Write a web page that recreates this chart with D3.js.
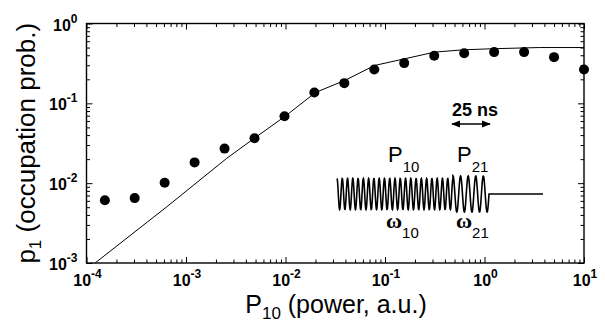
<!DOCTYPE html>
<html>
<head>
<meta charset="utf-8">
<script src="https://cdn.jsdelivr.net/npm/d3@7"></script>
<style>
  html, body { margin: 0; padding: 0; background: #fff; }
  svg { display: block; }
  text { fill: #000; }
</style>
</head>
<body>
<div id="chart"></div>
<script>
// measured points: occupation probability vs drive power
const powerValues = [1.53e-4, 3.05e-4, 6.1e-4, 1.22e-3, 2.44e-3, 4.88e-3, 9.77e-3, 0.0195, 0.039, 0.078, 0.156, 0.3125, 0.625, 1.25, 2.5, 5, 10];
const occupationValues = [6.1e-3, 6.5e-3, 1.01e-2, 1.82e-2, 2.71e-2, 3.65e-2, 6.9e-2, 0.137, 0.179, 0.266, 0.319, 0.395, 0.425, 0.438, 0.438, 0.379, 0.266];

// theory curve
const fitPower = [1.22e-4, 6.4e-4, 2.56e-3, 4.9e-3, 9.9e-3, 0.0201, 0.0396, 0.0785, 0.159, 0.315, 0.628, 1.22, 3.56, 10];
const fitOccupation = [1e-3, 5.05e-3, 0.0204, 0.0368, 0.0688, 0.137, 0.194, 0.298, 0.362, 0.438, 0.469, 0.483, 0.5, 0.5];

// tick labels (exponents of 10)
const xExponents = [-4, -3, -2, -1, 0, 1];
const yExponents = [-3, -2, -1, 0];

const width = 605;
const height = 322;
const margin = { top: 23.5, right: 21, bottom: 59, left: 86.5 };

const svg = d3
  .select('#chart')
  .append('svg')
  .attr('width', width)
  .attr('height', height);

const x = d3
  .scaleLog()
  .domain([1e-4, 10])
  .range([margin.left, width - margin.right]);

const y = d3
  .scaleLog()
  .domain([1e-3, 1])
  .range([height - margin.bottom, margin.top]);

const xMajor = xExponents.map((e) => Math.pow(10, e));
const yMajor = yExponents.map((e) => Math.pow(10, e));
const minorOf = (majors) => {
  const out = [];
  majors.slice(0, -1).forEach((m) => {
    for (let k = 2; k <= 9; k++) out.push(m * k);
  });
  return out;
};
const xMinor = minorOf(xMajor);
const yMinor = minorOf(yMajor);

// ticks pointing inward on all four sides
const plotBottom = y.range()[0];
const plotTop = y.range()[1];
const plotLeft = x.range()[0];
const plotRight = x.range()[1];

function addAxis(axis, tx, ty) {
  const g = svg.append('g').attr('transform', `translate(${tx},${ty})`).call(axis);
  g.select('.domain').remove();
  g.selectAll('line').attr('stroke', '#000').attr('stroke-width', 1);
  g.selectAll('text').remove();
}

[[xMajor, 6], [xMinor, 3.5]].forEach(([vals, len]) => {
  addAxis(d3.axisBottom(x).tickValues(vals).tickSize(-len), 0, plotBottom);
  addAxis(d3.axisTop(x).tickValues(vals).tickSize(-len), 0, plotTop);
});
[[yMajor, 6], [yMinor, 3.5]].forEach(([vals, len]) => {
  addAxis(d3.axisLeft(y).tickValues(vals).tickSize(-len), plotLeft, 0);
  addAxis(d3.axisRight(y).tickValues(vals).tickSize(-len), plotRight, 0);
});

svg
  .append('rect')
  .attr('x', plotLeft)
  .attr('y', plotTop)
  .attr('width', plotRight - plotLeft)
  .attr('height', plotBottom - plotTop)
  .attr('fill', 'none')
  .attr('stroke', '#000')
  .attr('stroke-width', 1.4);

// tick labels: 10 with superscript exponent
function powLabel(sel) {
  sel.append('tspan').text('10');
  sel
    .append('tspan')
    .attr('font-size', 12)
    .attr('dy', -8)
    .text((d) => (d < 0 ? '-' + Math.abs(d) : d));
}

svg
  .selectAll('.xlab')
  .data(xExponents)
  .enter()
  .append('text')
  .attr('class', 'xlab')
  .attr('x', (d) => x(Math.pow(10, d)) + 1)
  .attr('y', plotBottom + 23)
  .attr('text-anchor', 'middle')
  .attr('font-family', 'Liberation Sans, Arial, sans-serif')
  .attr('font-weight', 'bold')
  .attr('font-size', 16)
  .call(powLabel);

svg
  .selectAll('.ylab')
  .data(yExponents)
  .enter()
  .append('text')
  .attr('class', 'ylab')
  .attr('x', plotLeft - 9)
  .attr('y', (d) => y(Math.pow(10, d)) + 7)
  .attr('text-anchor', 'end')
  .attr('font-family', 'Liberation Sans, Arial, sans-serif')
  .attr('font-weight', 'bold')
  .attr('font-size', 16)
  .call(powLabel);

// axis titles
const xTitle = svg
  .append('text')
  .attr('x', 336)
  .attr('y', 313)
  .attr('text-anchor', 'middle')
  .attr('font-family', 'Liberation Sans, Arial, sans-serif')
  .attr('font-size', 25);
xTitle.append('tspan').text('P');
xTitle.append('tspan').attr('font-size', 17).attr('dy', 6).text('10');
xTitle.append('tspan').attr('dy', -6).text(' (power, a.u.)');

const yTitle = svg
  .append('text')
  .attr('transform', `translate(34.5,${(plotTop + plotBottom) / 2}) rotate(-90)`)
  .attr('text-anchor', 'middle')
  .attr('font-family', 'Liberation Sans, Arial, sans-serif')
  .attr('font-size', 26);
yTitle.append('tspan').text('p');
yTitle.append('tspan').attr('font-size', 17).attr('dy', 6).text('1');
yTitle.append('tspan').attr('dy', -6).text(' (occupation prob.)');

// theory curve
const line = d3
  .line()
  .x((d) => x(d[0]))
  .y((d) => y(d[1]));

svg
  .append('path')
  .datum(fitPower.map((p, i) => [p, fitOccupation[i]]))
  .attr('fill', 'none')
  .attr('stroke', '#000')
  .attr('stroke-width', 1)
  .attr('d', line);

// data points
svg
  .selectAll('.dot')
  .data(powerValues)
  .enter()
  .append('circle')
  .attr('class', 'dot')
  .attr('cx', (d) => x(d))
  .attr('cy', (d, i) => y(occupationValues[i]))
  .attr('r', 5)
  .attr('fill', '#000');

// inset: pulse sequence sketch
const wave = { start: 337, split: 453, end: 489, flatEnd: 543, mid: 194 };
const fastCycles = 22;
const slowCycles = 4.75;
const wavePts = [];
for (let px = wave.start; px <= wave.split; px += 0.2) {
  const t = (px - wave.start) / (wave.split - wave.start);
  wavePts.push([px, wave.mid - 15.5 * Math.cos(2 * Math.PI * fastCycles * t)]);
}
for (let px = wave.split; px <= wave.end; px += 0.2) {
  const t = (px - wave.split) / (wave.end - wave.split);
  wavePts.push([px, wave.mid - 18 * Math.cos(2 * Math.PI * slowCycles * t)]);
}
wavePts.push([wave.end, wave.mid], [wave.flatEnd, wave.mid]);

svg
  .append('path')
  .attr('d', d3.line()(wavePts))
  .attr('fill', 'none')
  .attr('stroke', '#000')
  .attr('stroke-width', 1.6);

const defs = svg.append('defs');
defs
  .append('marker')
  .attr('id', 'head')
  .attr('viewBox', '0 0 10 10')
  .attr('refX', 9)
  .attr('refY', 5)
  .attr('markerWidth', 9)
  .attr('markerHeight', 9)
  .attr('markerUnits', 'userSpaceOnUse')
  .attr('orient', 'auto-start-reverse')
  .append('path')
  .attr('d', 'M0,1 L10,5 L0,9 z')
  .attr('fill', '#000');

svg
  .append('line')
  .attr('x1', 452)
  .attr('x2', 490)
  .attr('y1', 124)
  .attr('y2', 124)
  .attr('stroke', '#000')
  .attr('stroke-width', 1.3)
  .attr('marker-start', 'url(#head)')
  .attr('marker-end', 'url(#head)');

svg
  .append('text')
  .attr('x', 475)
  .attr('y', 116)
  .attr('text-anchor', 'middle')
  .attr('font-family', 'Liberation Sans, Arial, sans-serif')
  .attr('font-weight', 'bold')
  .attr('font-size', 18)
  .text('25 ns');

function subLabel(xPos, yPos, main, sub, family, weight) {
  const t = svg
    .append('text')
    .attr('x', xPos)
    .attr('y', yPos)
    .attr('font-family', family)
    .attr('font-weight', weight)
    .attr('font-size', 22);
  t.append('tspan').text(main);
  t.append('tspan')
    .attr('font-family', 'Liberation Sans, Arial, sans-serif')
    .attr('font-weight', 'normal')
    .attr('font-size', 15)
    .attr('dy', 10)
    .text(sub);
}

subLabel(388, 162, 'P', '10', 'Liberation Sans, Arial, sans-serif', 'normal');
subLabel(457, 162, 'P', '21', 'Liberation Sans, Arial, sans-serif', 'normal');
subLabel(386, 228, 'ω', '10', 'Liberation Serif, Times New Roman, serif', 'bold');
subLabel(456, 228, 'ω', '21', 'Liberation Serif, Times New Roman, serif', 'bold');
</script>
</body>
</html>
